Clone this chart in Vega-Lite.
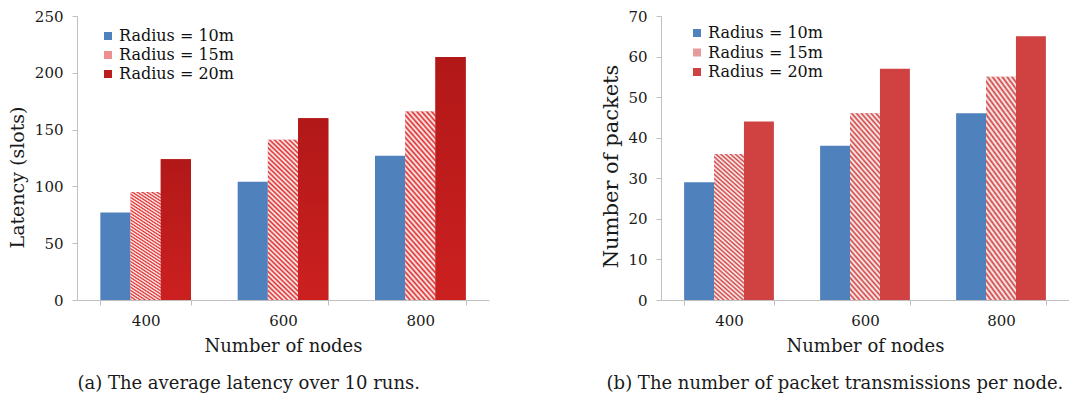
{
  "$schema": "https://vega.github.io/schema/vega-lite/v6.json",
  "padding": {"left": 8, "top": 9, "right": 0, "bottom": 1},
  "background": "white",
  "config": {
    "font": "DejaVu Serif",
    "view": {"stroke": null},
    "concat": {"spacing": 111},
    "axis": {"domainColor": "#bfbfbf", "tickColor": "#bfbfbf", "tickSize": 5, "labelColor": "#1a1a1a", "titleColor": "#1a1a1a", "labelFont": "DejaVu Serif", "titleFont": "DejaVu Serif", "labelFontSize": 15, "titleFontWeight": "normal", "grid": false},
    "legend": {"labelFont": "DejaVu Serif", "labelFontSize": 16, "labelColor": "#111111", "symbolType": "square", "symbolSize": 64, "symbolStrokeWidth": 0, "padding": 0, "labelOffset": 3, "title": null}
  },
  "datasets": {
    "latency": [
      {"nodes": "400", "radius": "Radius = 10m", "value": 77},
      {"nodes": "400", "radius": "Radius = 15m", "value": 95},
      {"nodes": "400", "radius": "Radius = 20m", "value": 124},
      {"nodes": "600", "radius": "Radius = 10m", "value": 104},
      {"nodes": "600", "radius": "Radius = 15m", "value": 141},
      {"nodes": "600", "radius": "Radius = 20m", "value": 160},
      {"nodes": "800", "radius": "Radius = 10m", "value": 127},
      {"nodes": "800", "radius": "Radius = 15m", "value": 166},
      {"nodes": "800", "radius": "Radius = 20m", "value": 214}
    ],
    "packets": [
      {"nodes": "400", "radius": "Radius = 10m", "value": 29},
      {"nodes": "400", "radius": "Radius = 15m", "value": 36},
      {"nodes": "400", "radius": "Radius = 20m", "value": 44},
      {"nodes": "600", "radius": "Radius = 10m", "value": 38},
      {"nodes": "600", "radius": "Radius = 15m", "value": 46},
      {"nodes": "600", "radius": "Radius = 20m", "value": 57},
      {"nodes": "800", "radius": "Radius = 10m", "value": 46},
      {"nodes": "800", "radius": "Radius = 15m", "value": 55},
      {"nodes": "800", "radius": "Radius = 20m", "value": 65}
    ]
  },
  "hconcat": [
    {
      "width": 412,
      "height": 284,
      "data": {"name": "latency"},
      "title": {"text": "(a) The average latency over 10 runs.", "orient": "bottom", "anchor": "middle", "frame": "bounds", "fontSize": 18, "fontWeight": "normal", "font": "DejaVu Serif", "offset": 20, "color": "#1a1a1a"},
      "encoding": {
        "x": {"field": "nodes", "type": "nominal", "sort": null, "scale": {"paddingInner": 0.34, "paddingOuter": 0.17}, "axis": {"title": "Number of nodes", "labelAngle": 0, "tickBand": "extent", "titleFontSize": 18, "labelPadding": 8, "titlePadding": 9}},
        "xOffset": {"field": "radius", "type": "nominal", "sort": null, "scale": {"paddingInner": 0, "paddingOuter": 0}},
        "y": {"field": "value", "type": "quantitative", "scale": {"domain": [0, 250]}, "axis": {"title": "Latency (slots)", "values": [0, 50, 100, 150, 200, 250], "titleFontSize": 19, "titleY": 161, "labelPadding": 9, "titlePadding": 7}}
      },
      "layer": [
        {
          "mark": {"type": "bar"},
          "encoding": {
            "color": {
              "field": "radius", "type": "nominal", "sort": null,
              "scale": {"domain": ["Radius = 10m", "Radius = 15m", "Radius = 20m"], "range": ["#4f81bd", "#eb8f8f", "#bb1c1c"]},
              "legend": {"orient": "none", "legendX": 23, "legendY": 12, "rowPadding": 3,
                "encode": {"symbols": {"update": {"fill": [
                  {"test": "datum.value === 'Radius = 15m'", "value": {"gradient": "linear", "x1": 0, "y1": 1, "x2": 1, "y2": 0, "stops": [
                    {"offset": 0, "color": "#dd2a2a"}, {"offset": 0.12, "color": "#dd2a2a"}, {"offset": 0.18, "color": "#ffffff"}, {"offset": 0.3, "color": "#ffffff"},
                    {"offset": 0.36, "color": "#dd2a2a"}, {"offset": 0.47, "color": "#dd2a2a"}, {"offset": 0.53, "color": "#ffffff"}, {"offset": 0.64, "color": "#ffffff"},
                    {"offset": 0.7, "color": "#dd2a2a"}, {"offset": 0.81, "color": "#dd2a2a"}, {"offset": 0.87, "color": "#ffffff"}, {"offset": 1, "color": "#ffffff"}]}},
                  {"test": "datum.value === 'Radius = 20m'", "value": "#b81a1a"},
                  {"value": "#4f81bd"}
                ]}}}}
            }
          }
        },
        {
          "transform": [{"filter": "datum.radius === 'Radius = 15m'"}],
          "mark": {"type": "bar", "fill": {"gradient": "linear", "x1": 0, "y1": 1, "x2": 0.21, "y2": -0.15, "stops": [
                {"offset": 0, "color": "#dd2a2a"}, {"offset": 0.0125, "color": "#ffffff"}, {"offset": 0.025, "color": "#dd2a2a"}, {"offset": 0.0375, "color": "#ffffff"},
                {"offset": 0.05, "color": "#dd2a2a"}, {"offset": 0.0625, "color": "#ffffff"}, {"offset": 0.075, "color": "#dd2a2a"}, {"offset": 0.0875, "color": "#ffffff"},
                {"offset": 0.1, "color": "#dd2a2a"}, {"offset": 0.1125, "color": "#ffffff"}, {"offset": 0.125, "color": "#dd2a2a"}, {"offset": 0.1375, "color": "#ffffff"},
                {"offset": 0.15, "color": "#dd2a2a"}, {"offset": 0.1625, "color": "#ffffff"}, {"offset": 0.175, "color": "#dd2a2a"}, {"offset": 0.1875, "color": "#ffffff"},
                {"offset": 0.2, "color": "#dd2a2a"}, {"offset": 0.2125, "color": "#ffffff"}, {"offset": 0.225, "color": "#dd2a2a"}, {"offset": 0.2375, "color": "#ffffff"},
                {"offset": 0.25, "color": "#dd2a2a"}, {"offset": 0.2625, "color": "#ffffff"}, {"offset": 0.275, "color": "#dd2a2a"}, {"offset": 0.2875, "color": "#ffffff"},
                {"offset": 0.3, "color": "#dd2a2a"}, {"offset": 0.3125, "color": "#ffffff"}, {"offset": 0.325, "color": "#dd2a2a"}, {"offset": 0.3375, "color": "#ffffff"},
                {"offset": 0.35, "color": "#dd2a2a"}, {"offset": 0.3625, "color": "#ffffff"}, {"offset": 0.375, "color": "#dd2a2a"}, {"offset": 0.3875, "color": "#ffffff"},
                {"offset": 0.4, "color": "#dd2a2a"}, {"offset": 0.4125, "color": "#ffffff"}, {"offset": 0.425, "color": "#dd2a2a"}, {"offset": 0.4375, "color": "#ffffff"},
                {"offset": 0.45, "color": "#dd2a2a"}, {"offset": 0.4625, "color": "#ffffff"}, {"offset": 0.475, "color": "#dd2a2a"}, {"offset": 0.4875, "color": "#ffffff"},
                {"offset": 0.5, "color": "#dd2a2a"}, {"offset": 0.5125, "color": "#ffffff"}, {"offset": 0.525, "color": "#dd2a2a"}, {"offset": 0.5375, "color": "#ffffff"},
                {"offset": 0.55, "color": "#dd2a2a"}, {"offset": 0.5625, "color": "#ffffff"}, {"offset": 0.575, "color": "#dd2a2a"}, {"offset": 0.5875, "color": "#ffffff"},
                {"offset": 0.6, "color": "#dd2a2a"}, {"offset": 0.6125, "color": "#ffffff"}, {"offset": 0.625, "color": "#dd2a2a"}, {"offset": 0.6375, "color": "#ffffff"},
                {"offset": 0.65, "color": "#dd2a2a"}, {"offset": 0.6625, "color": "#ffffff"}, {"offset": 0.675, "color": "#dd2a2a"}, {"offset": 0.6875, "color": "#ffffff"},
                {"offset": 0.7, "color": "#dd2a2a"}, {"offset": 0.7125, "color": "#ffffff"}, {"offset": 0.725, "color": "#dd2a2a"}, {"offset": 0.7375, "color": "#ffffff"},
                {"offset": 0.75, "color": "#dd2a2a"}, {"offset": 0.7625, "color": "#ffffff"}, {"offset": 0.775, "color": "#dd2a2a"}, {"offset": 0.7875, "color": "#ffffff"},
                {"offset": 0.8, "color": "#dd2a2a"}, {"offset": 0.8125, "color": "#ffffff"}, {"offset": 0.825, "color": "#dd2a2a"}, {"offset": 0.8375, "color": "#ffffff"},
                {"offset": 0.85, "color": "#dd2a2a"}, {"offset": 0.8625, "color": "#ffffff"}, {"offset": 0.875, "color": "#dd2a2a"}, {"offset": 0.8875, "color": "#ffffff"},
                {"offset": 0.9, "color": "#dd2a2a"}, {"offset": 0.9125, "color": "#ffffff"}, {"offset": 0.925, "color": "#dd2a2a"}, {"offset": 0.9375, "color": "#ffffff"},
                {"offset": 0.95, "color": "#dd2a2a"}, {"offset": 0.9625, "color": "#ffffff"}, {"offset": 0.975, "color": "#dd2a2a"}, {"offset": 0.9875, "color": "#ffffff"},
                {"offset": 1, "color": "#dd2a2a"}
              ]}}
        },
        {
          "transform": [{"filter": "datum.radius === 'Radius = 20m'"}],
          "mark": {"type": "bar", "fill": {"gradient": "linear", "x1": 0, "y1": 0, "x2": 0, "y2": 1, "stops": [{"offset": 0, "color": "#b21818"}, {"offset": 1, "color": "#cc2020"}]}}
        }
      ]
    },
    {
      "width": 408,
      "height": 284,
      "data": {"name": "packets"},
      "title": {"text": "(b) The number of packet transmissions per node.", "orient": "bottom", "anchor": "middle", "frame": "bounds", "fontSize": 18, "fontWeight": "normal", "font": "DejaVu Serif", "offset": 20, "color": "#1a1a1a"},
      "encoding": {
        "x": {"field": "nodes", "type": "nominal", "sort": null, "scale": {"paddingInner": 0.34, "paddingOuter": 0.17}, "axis": {"title": "Number of nodes", "labelAngle": 0, "tickBand": "extent", "titleFontSize": 18, "labelPadding": 8, "titlePadding": 9}},
        "xOffset": {"field": "radius", "type": "nominal", "sort": null, "scale": {"paddingInner": 0, "paddingOuter": 0}},
        "y": {"field": "value", "type": "quantitative", "scale": {"domain": [0, 70]}, "axis": {"title": "Number of packets", "values": [0, 10, 20, 30, 40, 50, 60, 70], "titleFontSize": 21, "titleY": 150, "labelPadding": 9, "titlePadding": 6}}
      },
      "layer": [
        {
          "mark": {"type": "bar"},
          "encoding": {
            "color": {
              "field": "radius", "type": "nominal", "sort": null,
              "scale": {"domain": ["Radius = 10m", "Radius = 15m", "Radius = 20m"], "range": ["#4f81bd", "#e79a9a", "#d04141"]},
              "legend": {"orient": "none", "legendX": 28, "legendY": 9, "rowPadding": 3.5,
                "encode": {"symbols": {"update": {"fill": [
                  {"test": "datum.value === 'Radius = 15m'", "value": {"gradient": "linear", "x1": 0, "y1": 1, "x2": 1, "y2": 0, "stops": [
                    {"offset": 0, "color": "#d04141"}, {"offset": 0.12, "color": "#d04141"}, {"offset": 0.18, "color": "#ffffff"}, {"offset": 0.3, "color": "#ffffff"},
                    {"offset": 0.36, "color": "#d04141"}, {"offset": 0.47, "color": "#d04141"}, {"offset": 0.53, "color": "#ffffff"}, {"offset": 0.64, "color": "#ffffff"},
                    {"offset": 0.7, "color": "#d04141"}, {"offset": 0.81, "color": "#d04141"}, {"offset": 0.87, "color": "#ffffff"}, {"offset": 1, "color": "#ffffff"}]}},
                  {"test": "datum.value === 'Radius = 20m'", "value": "#d04141"},
                  {"value": "#4f81bd"}
                ]}}}}
            }
          }
        },
        {
          "transform": [{"filter": "datum.radius === 'Radius = 15m'"}],
          "mark": {"type": "bar", "fill": {"gradient": "linear", "x1": 0, "y1": 1, "x2": 0.21, "y2": -0.15, "stops": [
                {"offset": 0, "color": "#d04141"}, {"offset": 0.0125, "color": "#ffffff"}, {"offset": 0.025, "color": "#d04141"}, {"offset": 0.0375, "color": "#ffffff"},
                {"offset": 0.05, "color": "#d04141"}, {"offset": 0.0625, "color": "#ffffff"}, {"offset": 0.075, "color": "#d04141"}, {"offset": 0.0875, "color": "#ffffff"},
                {"offset": 0.1, "color": "#d04141"}, {"offset": 0.1125, "color": "#ffffff"}, {"offset": 0.125, "color": "#d04141"}, {"offset": 0.1375, "color": "#ffffff"},
                {"offset": 0.15, "color": "#d04141"}, {"offset": 0.1625, "color": "#ffffff"}, {"offset": 0.175, "color": "#d04141"}, {"offset": 0.1875, "color": "#ffffff"},
                {"offset": 0.2, "color": "#d04141"}, {"offset": 0.2125, "color": "#ffffff"}, {"offset": 0.225, "color": "#d04141"}, {"offset": 0.2375, "color": "#ffffff"},
                {"offset": 0.25, "color": "#d04141"}, {"offset": 0.2625, "color": "#ffffff"}, {"offset": 0.275, "color": "#d04141"}, {"offset": 0.2875, "color": "#ffffff"},
                {"offset": 0.3, "color": "#d04141"}, {"offset": 0.3125, "color": "#ffffff"}, {"offset": 0.325, "color": "#d04141"}, {"offset": 0.3375, "color": "#ffffff"},
                {"offset": 0.35, "color": "#d04141"}, {"offset": 0.3625, "color": "#ffffff"}, {"offset": 0.375, "color": "#d04141"}, {"offset": 0.3875, "color": "#ffffff"},
                {"offset": 0.4, "color": "#d04141"}, {"offset": 0.4125, "color": "#ffffff"}, {"offset": 0.425, "color": "#d04141"}, {"offset": 0.4375, "color": "#ffffff"},
                {"offset": 0.45, "color": "#d04141"}, {"offset": 0.4625, "color": "#ffffff"}, {"offset": 0.475, "color": "#d04141"}, {"offset": 0.4875, "color": "#ffffff"},
                {"offset": 0.5, "color": "#d04141"}, {"offset": 0.5125, "color": "#ffffff"}, {"offset": 0.525, "color": "#d04141"}, {"offset": 0.5375, "color": "#ffffff"},
                {"offset": 0.55, "color": "#d04141"}, {"offset": 0.5625, "color": "#ffffff"}, {"offset": 0.575, "color": "#d04141"}, {"offset": 0.5875, "color": "#ffffff"},
                {"offset": 0.6, "color": "#d04141"}, {"offset": 0.6125, "color": "#ffffff"}, {"offset": 0.625, "color": "#d04141"}, {"offset": 0.6375, "color": "#ffffff"},
                {"offset": 0.65, "color": "#d04141"}, {"offset": 0.6625, "color": "#ffffff"}, {"offset": 0.675, "color": "#d04141"}, {"offset": 0.6875, "color": "#ffffff"},
                {"offset": 0.7, "color": "#d04141"}, {"offset": 0.7125, "color": "#ffffff"}, {"offset": 0.725, "color": "#d04141"}, {"offset": 0.7375, "color": "#ffffff"},
                {"offset": 0.75, "color": "#d04141"}, {"offset": 0.7625, "color": "#ffffff"}, {"offset": 0.775, "color": "#d04141"}, {"offset": 0.7875, "color": "#ffffff"},
                {"offset": 0.8, "color": "#d04141"}, {"offset": 0.8125, "color": "#ffffff"}, {"offset": 0.825, "color": "#d04141"}, {"offset": 0.8375, "color": "#ffffff"},
                {"offset": 0.85, "color": "#d04141"}, {"offset": 0.8625, "color": "#ffffff"}, {"offset": 0.875, "color": "#d04141"}, {"offset": 0.8875, "color": "#ffffff"},
                {"offset": 0.9, "color": "#d04141"}, {"offset": 0.9125, "color": "#ffffff"}, {"offset": 0.925, "color": "#d04141"}, {"offset": 0.9375, "color": "#ffffff"},
                {"offset": 0.95, "color": "#d04141"}, {"offset": 0.9625, "color": "#ffffff"}, {"offset": 0.975, "color": "#d04141"}, {"offset": 0.9875, "color": "#ffffff"},
                {"offset": 1, "color": "#d04141"}
              ]}}
        }
      ]
    }
  ],
  "resolve": {"scale": {"color": "independent", "y": "independent", "x": "independent", "xOffset": "independent"}, "legend": {"color": "independent"}}
}
